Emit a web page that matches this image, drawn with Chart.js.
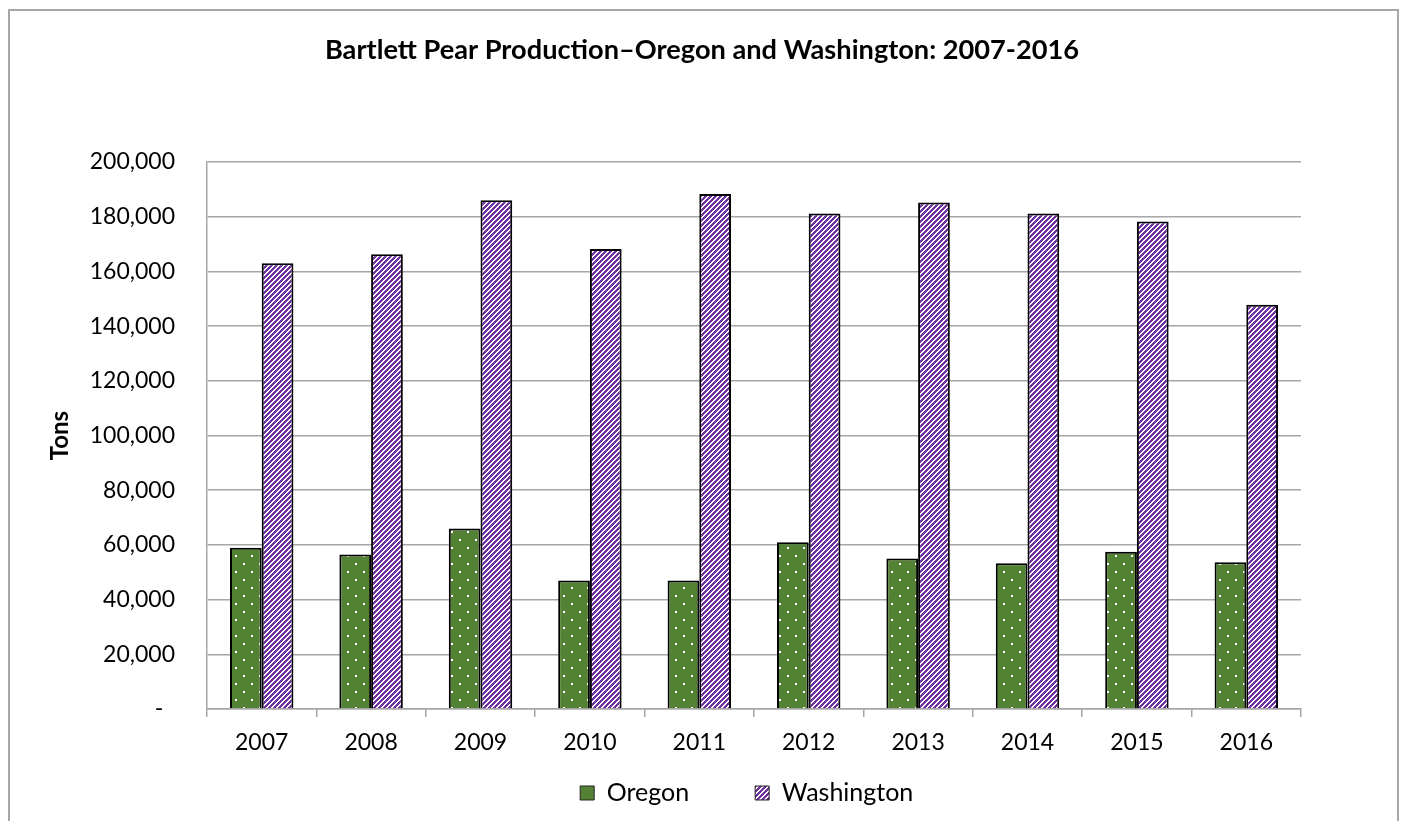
<!DOCTYPE html>
<html>
<head>
<meta charset="utf-8">
<script src="https://cdn.jsdelivr.net/npm/chart.js@4.4.1/dist/chart.umd.min.js"></script>
<style>
  html, body { margin: 0; padding: 0; background: #ffffff; }
  #c { display: block; }
</style>
</head>
<body>
<canvas id="c" width="1404" height="821"></canvas>
<script>
const years = ['2007','2008','2009','2010','2011','2012','2013','2014','2015','2016'];
const oregon = [59000, 56500, 66000, 47000, 47000, 61000, 55000, 53300, 57500, 53700];
const washington = [163000, 166300, 186000, 168200, 188300, 181200, 185200, 181200, 178300, 147800];
const seriesNames = ['Oregon', 'Washington'];
const chartTitle = 'Bartlett Pear Production\u2013Oregon and Washington: 2007-2016';
const yAxisTitle = 'Tons';

const GREEN = '#548235';
const PURPLE = '#7030A0';
const FONT = 'Lato, "Open Sans", sans-serif';

function dotPattern(ctx) {
  const t = document.createElement('canvas');
  t.width = 16; t.height = 16;
  const g = t.getContext('2d');
  g.fillStyle = GREEN; g.fillRect(0, 0, 16, 16);
  g.fillStyle = '#ffffff';
  g.fillRect(3, 3, 2, 2);
  g.fillRect(11, 11, 2, 2);
  return ctx.createPattern(t, 'repeat');
}
function stripePattern(ctx) {
  const p = 5;
  const t = document.createElement('canvas');
  t.width = p * 2; t.height = p * 2;
  const g = t.getContext('2d');
  g.fillStyle = '#ffffff'; g.fillRect(0, 0, t.width, t.height);
  g.fillStyle = PURPLE;
  for (let y = 0; y < t.height; y++) {
    for (let x = 0; x < t.width; x++) {
      if (((x + y) % p) < 3) g.fillRect(x, y, 1, 1);
    }
  }
  return ctx.createPattern(t, 'repeat');
}

const canvas = document.getElementById('c');
const ctx = canvas.getContext('2d');
const oregonFill = dotPattern(ctx);
const washFill = stripePattern(ctx);

const frame = {
  id: 'frame',
  beforeDraw(chart) {
    const c = chart.ctx;
    c.save();
    c.fillStyle = '#ffffff';
    c.fillRect(0, 0, chart.width, chart.height);
    c.strokeStyle = '#A6A6A6';
    c.lineWidth = 2;
    c.strokeRect(9, 10, 1389, 900);
    c.restore();
  },
  afterLayout(chart) {
    const lg = chart.legend;
    if (lg) {
      lg.left = 44.75; lg.right = 1448.75;
      lg.top = 714.5; lg.bottom = 821;
    }
  }
};

new Chart(ctx, {
  type: 'bar',
  data: {
    labels: years,
    datasets: [
      { label: seriesNames[0], data: oregon, backgroundColor: oregonFill, borderColor: '#000000', borderWidth: 2,
        categoryPercentage: 0.58, barPercentage: 1.0 },
      { label: seriesNames[1], data: washington, backgroundColor: washFill, borderColor: '#000000', borderWidth: 2,
        categoryPercentage: 0.58, barPercentage: 1.0 }
    ]
  },
  options: {
    responsive: false,
    animation: false,
    devicePixelRatio: 1,
    layout: { padding: { left: 0, right: 0, top: 0, bottom: 12 } },
    plugins: {
      title: {
        display: true,
        text: chartTitle,
        color: '#000000',
        font: { family: FONT, size: 27.2, weight: 'bold', lineHeight: 1.2 },
        padding: { top: 34, bottom: 95.4 }
      },
      legend: {
        display: true,
        position: 'bottom',
        maxHeight: 40,
        labels: {
          color: '#000000',
          font: { family: FONT, size: 25 },
          boxWidth: 14,
          boxHeight: 14,
          padding: 66,
          generateLabels(chart) {
            const items = Chart.defaults.plugins.legend.labels.generateLabels(chart);
            items.forEach(it => { it.lineWidth = 1; it.strokeStyle = '#222222'; });
            items[0].fillStyle = GREEN;
            return items;
          }
        }
      },
      tooltip: { enabled: false }
    },
    scales: {
      x: {
        grid: { display: true, offset: true, drawOnChartArea: false, drawTicks: true, tickLength: 8, color: '#A6A6A6', lineWidth: 1.5 },
        border: { display: true, color: '#A6A6A6', width: 1.5 },
        ticks: { color: '#000000', font: { family: FONT, size: 23 }, padding: 12, maxRotation: 0, autoSkip: false },
        afterFit(s) { s.height = 60; }
      },
      y: {
        min: 0, max: 200000,
        grid: { color: '#A6A6A6', lineWidth: 1.5, drawTicks: false },
        border: { display: true, color: '#A6A6A6', width: 1.5 },
        ticks: {
          stepSize: 20000,
          color: '#000000',
          font: { family: FONT, size: 23 },
          padding: 32,
          callback(v) { return v === 0 ? '-  ' : v.toLocaleString('en-US'); }
        },
        title: {
          display: true, text: yAxisTitle, color: '#000000',
          font: { family: FONT, size: 24, weight: 'bold', lineHeight: 1.2 },
          padding: { top: 45.6, bottom: 0 }
        },
        afterFit(s) { s.width = 207; }
      },
      y2: {
        position: 'right',
        display: true,
        grid: { display: false, drawTicks: false },
        border: { display: false },
        ticks: { display: false },
        afterFit(s) { s.width = 103; }
      }
    }
  },
  plugins: [frame]
});
</script>
</body>
</html>
